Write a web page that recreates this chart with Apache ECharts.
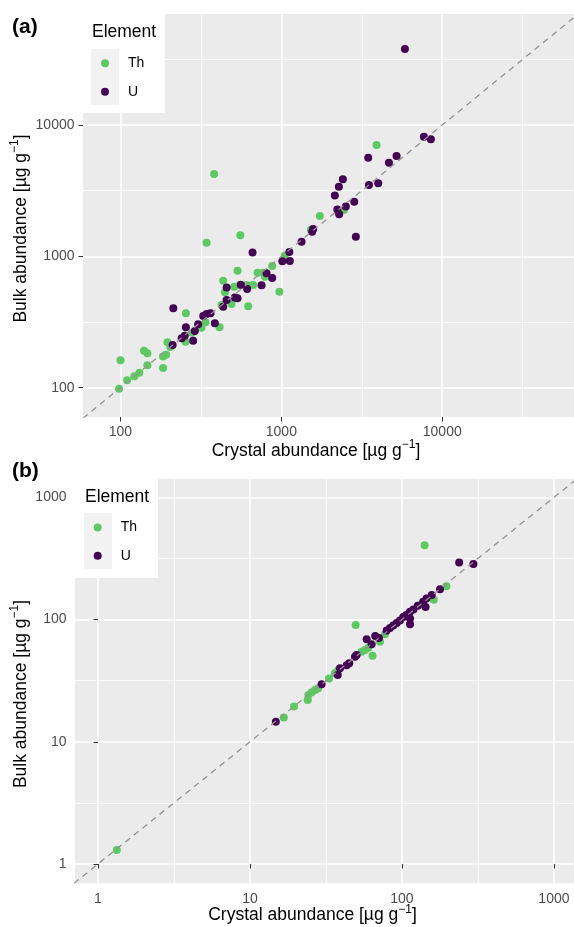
<!DOCTYPE html>
<html><head><meta charset="utf-8">
<script src="https://cdn.jsdelivr.net/npm/echarts@6/dist/echarts.min.js"></script>
<style>html,body{margin:0;padding:0;background:#fff}#chart{width:574px;height:927px}</style>
</head><body><div id="chart"></div>
<script>
// ---------- Panel (a): crystal vs bulk abundance [µg g-1] ----------
const aThCrystal = [98, 100, 110, 122, 131, 140, 147, 147, 184, 192, 184, 196, 204, 255, 254, 279, 319, 338, 343, 413, 425, 435, 446, 382, 556, 534, 490, 622, 509, 552, 608, 668, 712, 771, 790, 877, 972, 1051, 1735, 1526, 2445, 3905];
const aThBulk    = [98, 162, 114, 122, 130, 191, 183, 148, 173, 178, 141, 222, 204, 369, 224, 262, 286, 315, 1270, 288, 426, 653, 532, 4240, 1450, 778, 434, 417, 587, 605, 605, 605, 751, 751, 700, 844, 538, 1015, 2029, 1596, 2254, 7042];
const aUCrystal  = [213, 211, 240, 251, 255, 283, 290, 304, 327, 343, 363, 386, 435, 457, 457, 534, 560, 613, 662, 753, 809, 877, 1014, 1129, 1121, 1335, 1554, 1576, 2150, 2277, 2411, 2228, 2287, 2517, 2838, 3503, 4000, 3467, 4662, 5200, 7686, 8494, 5861, 2904, 514];
const aUBulk     = [402, 211, 238, 249, 288, 228, 270, 304, 352, 364, 369, 309, 414, 465, 579, 479, 608, 564, 1070, 602, 743, 684, 917, 922, 1079, 1293, 1540, 1615, 2906, 3391, 3861, 2274, 2089, 2396, 2607, 3493, 3599, 5638, 5164, 5808, 8145, 7783, 37900, 1411, 486];

// ---------- Panel (b) ----------
const bThCrystal = [1.33, 16.7, 19.5, 24.0, 24.2, 25.5, 26.8, 28.1, 33.1, 36.2, 38.1, 54.3, 57.1, 60.0, 49.6, 64.0, 71.7, 77.3, 141, 196, 162, 135];
const bThBulk    = [1.30, 15.8, 19.4, 22.0, 24.1, 25.4, 26.5, 27.4, 33.0, 36.3, 38.7, 54.6, 56.3, 58.8, 90.2, 50.6, 65.9, 75.7, 405, 187, 145, 134];
const bUCrystal  = [14.8, 29.6, 37.8, 39.1, 43.3, 45.0, 49.1, 50.3, 58.6, 63.2, 66.7, 70.6, 79.3, 83.4, 87.7, 92.3, 97.0, 102, 107, 113, 119, 113, 113, 138, 145, 157, 143, 178, 238, 295, 127];
const bUBulk     = [14.6, 29.5, 35.2, 39.9, 42.2, 43.9, 49.7, 51.3, 68.9, 62.7, 73.3, 70.6, 81.4, 85.3, 89.4, 93.7, 98.2, 105, 109, 116, 121, 102, 91.6, 140, 149, 159, 127, 177, 293, 285, 130];

// ---------- Axis ticks & ranges ----------
const aXTicks = [100, 1000, 10000];
const aYTicks = [100, 1000, 10000];
const bXTicks = [1, 10, 100, 1000];
const bYTicks = [1, 10, 100, 1000];
const aXRange = [58.5, 65900];
const aYRange = [59.8, 70000];
const bXRange = [0.706, 1355];
const bYRange = [0.695, 1413];

const elements = ['Th', 'U'];
const colors = {Th: '#5ec962', U: '#440154'};

const FONT = '"Liberation Sans", Arial, Helvetica, sans-serif';
const L = Math.log10;

function majorAxis(g, range, ticks, isX) {
  const vals = ticks.map(L);
  return {
    type: 'value', gridIndex: g, min: L(range[0]), max: L(range[1]),
    position: isX ? 'bottom' : 'left', z: 1,
    axisLine: {show: false},
    axisTick: {show: true, length: 4.5, lineStyle: {color: '#333333', width: 1}, customValues: vals},
    axisLabel: {show: true, customValues: vals, margin: 8.5, color: '#4d4d4d', fontSize: 14, fontFamily: FONT,
      formatter: v => String(Math.round(Math.pow(10, v)))},
    splitLine: {show: true, lineStyle: {color: '#ffffff', width: 1.6}},
    minorTick: {show: false}, minorSplitLine: {show: false}
  };
}
function minorAxis(g, range, ticks, isX) {
  const lo = L(range[0]), hi = L(range[1]);
  const vals = ticks.map(L);
  const minors = [];
  minors.push(vals[0] - 0.5);
  for (let i = 0; i < vals.length; i++) minors.push(vals[i] + 0.5);
  const inside = minors.filter(v => v > lo && v < hi);
  return {
    type: 'value', gridIndex: g, min: lo, max: hi,
    position: isX ? 'bottom' : 'left', z: 0,
    axisLine: {show: false},
    axisTick: {show: false, customValues: inside},
    axisLabel: {show: false, customValues: inside},
    splitLine: {show: true, lineStyle: {color: '#ffffff', width: 0.8}}
  };
}
function pts(xs, ys) { return xs.map((x, i) => [L(x), L(ys[i])]); }
function identity(xr, yr) {
  const lo = Math.min(L(xr[0]), L(yr[0])), hi = Math.max(L(xr[1]), L(yr[1]));
  return [[lo, lo], [hi, hi]];
}
function panelSeries(ax, thX, thY, uX, uY, xr, yr) {
  return [
    {type: 'scatter', name: 'Th', xAxisIndex: ax, yAxisIndex: ax, data: pts(thX, thY), symbol: 'circle', symbolSize: 8,
      itemStyle: {color: colors.Th, opacity: 1}, z: 2, silent: true},
    {type: 'scatter', name: 'U', xAxisIndex: ax, yAxisIndex: ax, data: pts(uX, uY), symbol: 'circle', symbolSize: 8,
      itemStyle: {color: colors.U, opacity: 1}, z: 2, silent: true},
    {type: 'line', name: '1:1', xAxisIndex: ax, yAxisIndex: ax, data: identity(xr, yr), symbol: 'none', showSymbol: false,
      lineStyle: {color: '#959191', width: 1.3, type: [6, 5]}, clip: true, z: 3, silent: true}
  ];
}
function txt(text, x, y, size, extra) {
  return Object.assign({
    type: 'text', x: x, y: y, z: 70, silent: true,
    style: Object.assign({text: text, fill: '#000000', font: size + 'px ' + FONT,
      textAlign: 'center', textVerticalAlign: 'middle', align: 'center', verticalAlign: 'middle'}, (extra && extra.style) || {})
  }, extra && extra.el || {});
}
function titleText(x, y, label, rotate) {
  return {
    type: 'text', x: x, y: y, z: 70, silent: true, rotation: rotate ? Math.PI / 2 : 0,
    style: {
      text: label + ' [µg g{sup|−1}]', fill: '#000000', font: '17.5px ' + FONT, lineHeight: 24,
      textAlign: 'center', textVerticalAlign: 'middle', align: 'center', verticalAlign: 'middle',
      rich: {sup: {font: '12px ' + FONT, fontSize: 12, fill: '#000000', lineHeight: 12, verticalAlign: 'top'}}
    }
  };
}
function legendFor(name, left, top) {
  return {
    z: 60, orient: 'vertical', left: left, top: top, padding: 0, itemWidth: 36, itemHeight: 8, itemGap: 0,
    icon: 'circle', selectedMode: false, data: [name],
    textStyle: {fontSize: 14, fontFamily: FONT, color: '#000000', lineHeight: 8}
  };
}

const option = {
  animation: false,
  backgroundColor: '#ffffff',
  grid: [
    {left: 83, top: 14, right: 0, height: 403, show: true, backgroundColor: '#ebebeb', borderWidth: 0, containLabel: false, outerBoundsMode: 'none'},
    {left: 75, top: 479, right: 0, height: 404.3, show: true, backgroundColor: '#ebebeb', borderWidth: 0, containLabel: false, outerBoundsMode: 'none'}
  ],
  xAxis: [majorAxis(0, aXRange, aXTicks, true), minorAxis(0, aXRange, aXTicks, true),
          majorAxis(1, bXRange, bXTicks, true), minorAxis(1, bXRange, bXTicks, true)],
  yAxis: [majorAxis(0, aYRange, aYTicks, false), minorAxis(0, aYRange, aYTicks, false),
          majorAxis(1, bYRange, bYTicks, false), minorAxis(1, bYRange, bYTicks, false)],
  legend: [
    legendFor(elements[0], 101, 56.2), legendFor(elements[1], 101, 84.7),
    legendFor(elements[0], 93.7, 520.4), legendFor(elements[1], 93.7, 548.7)
  ],
  series: [].concat(
    panelSeries(0, aThCrystal, aThBulk, aUCrystal, aUBulk, aXRange, aYRange),
    panelSeries(2, bThCrystal, bThBulk, bUCrystal, bUBulk, bXRange, bYRange)
  ),
  graphic: {elements: [
    {type: 'rect', shape: {x: 83, y: 14, width: 82, height: 99}, style: {fill: '#ffffff'}, z: 50, silent: true},
    {type: 'rect', shape: {x: 91, y: 49, width: 28, height: 56}, style: {fill: '#f2f2f2'}, z: 51, silent: true},
    {type: 'rect', shape: {x: 75, y: 479, width: 83, height: 99}, style: {fill: '#ffffff'}, z: 50, silent: true},
    {type: 'rect', shape: {x: 84, y: 513, width: 28, height: 56}, style: {fill: '#f2f2f2'}, z: 51, silent: true},
    txt('Element', 92, 32.5, 17.5, {style: {textAlign: 'left', align: 'left'}}),
    txt('Element', 85, 497, 17.5, {style: {textAlign: 'left', align: 'left'}}),
    txt('(a)', 12, 27, 21, {style: {textAlign: 'left', align: 'left', font: 'bold 21px ' + FONT}}),
    txt('(b)', 12, 471, 21, {style: {textAlign: 'left', align: 'left', font: 'bold 21px ' + FONT}}),
    titleText(316, 451, 'Crystal abundance', false),
    titleText(312.5, 915.5, 'Crystal abundance', false),
    titleText(21, 228.5, 'Bulk abundance', true),
    titleText(21, 694, 'Bulk abundance', true)
  ]}
};

const chart = echarts.init(document.getElementById('chart'), null, {renderer: 'canvas', width: 574, height: 927});
chart.setOption(option);
</script>
</body></html>
